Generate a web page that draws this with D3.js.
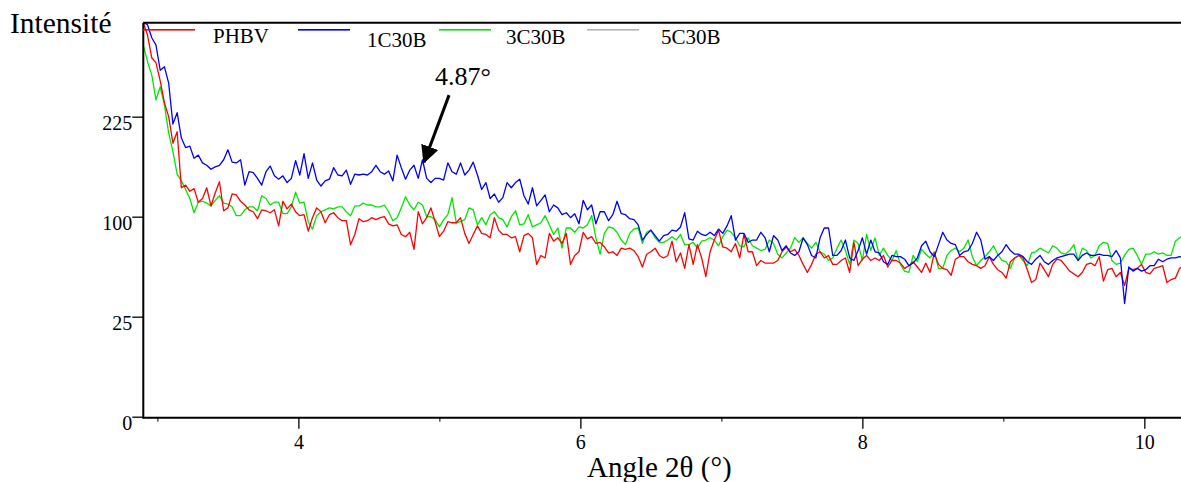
<!DOCTYPE html>
<html>
<head>
<meta charset="utf-8">
<script src="https://cdn.jsdelivr.net/npm/d3@7"></script>
<style>
  html, body { margin: 0; padding: 0; background: #fff; }
  svg { display: block; }
  text { font-family: "Liberation Serif", "Times New Roman", serif; fill: #000; }
</style>
</head>
<body>
<div id="chart"></div>
<script>
// scan grid, degrees 2θ
const angleStart = 2.9;
const angleStep = 0.03;

const seriesNames = ['PHBV', '1C30B', '3C30B', '5C30B'];
const seriesColors = ['#ff0000', '#0000ff', '#00e600', '#b4b4b4'];

// intensities, one per grid step
const phbv = [
  388, 364, 322, 313, 282, 246, 225, 187, 203, 131,
  134, 127, 130, 115, 119, 131, 111, 125, 138, 106,
  109, 124, 123, 116, 112, 107, 105, 98, 107, 106,
  104, 107, 91, 116, 108, 113, 105, 101, 102, 86,
  99, 109, 105, 94, 102, 104, 99, 96, 96, 74,
  83, 98, 95, 96, 99, 97, 99, 100, 93, 91,
  92, 83, 81, 85, 70, 105, 93, 99, 109, 95,
  81, 86, 95, 94, 94, 99, 84, 75, 83, 91,
  84, 83, 80, 99, 87, 83, 83, 80, 81, 68,
  82, 84, 80, 58, 65, 63, 84, 77, 80, 75,
  84, 58, 65, 68, 85, 79, 81, 75, 76, 72,
  67, 68, 65, 71, 70, 71, 69, 64, 56, 66,
  68, 71, 65, 63, 65, 77, 60, 67, 55, 74,
  58, 74, 63, 49, 68, 78, 87, 72, 71, 68,
  75, 63, 83, 68, 68, 57, 61, 59, 59, 59,
  61, 68, 72, 68, 70, 65, 58, 52, 58, 66,
  68, 63, 65, 58, 58, 61, 63, 52, 76, 57,
  62, 65, 61, 63, 61, 65, 56, 61, 61, 59,
  55, 57, 60, 56, 52, 59, 52, 67, 58, 55,
  54, 50, 62, 64, 64, 60, 58, 57, 55, 57,
  64, 58, 54, 52, 48, 60, 63, 65, 63, 54,
  45, 47, 59, 54, 49, 58, 62, 61, 57, 53,
  51, 49, 52, 58, 59, 57, 64, 46, 54, 55,
  49, 52, 43, 55, 54, 55, 58, 52, 51, 55,
  56, 57, 45, 47, 48, 55, 57
];

const c1c30b = [
  388, 384, 359, 345, 300, 306, 278, 214, 231, 194,
  181, 183, 167, 171, 161, 158, 153, 156, 158, 165,
  178, 162, 161, 165, 134, 150, 149, 142, 134, 150,
  157, 145, 141, 145, 137, 142, 164, 146, 173, 142,
  161, 140, 133, 139, 141, 155, 146, 145, 152, 135,
  147, 146, 147, 146, 150, 158, 150, 147, 151, 139,
  171, 155, 141, 152, 158, 142, 165, 142, 137, 142,
  142, 140, 161, 150, 147, 161, 146, 152, 162, 146,
  129, 137, 119, 124, 115, 120, 137, 131, 137, 141,
  122, 113, 131, 111, 117, 123, 105, 112, 109, 102,
  104, 99, 103, 93, 117, 107, 112, 93, 105, 105,
  96, 102, 116, 103, 102, 98, 97, 92, 78, 83,
  87, 82, 77, 82, 83, 87, 86, 90, 104, 79,
  78, 86, 83, 82, 85, 82, 88, 84, 91, 101,
  78, 84, 84, 76, 78, 78, 85, 80, 68, 82,
  78, 69, 73, 67, 65, 68, 80, 74, 65, 63,
  80, 89, 89, 65, 65, 69, 78, 63, 61, 69,
  80, 66, 78, 68, 67, 60, 58, 65, 64, 64,
  62, 57, 59, 63, 73, 77, 68, 64, 74, 85,
  78, 75, 74, 65, 68, 69, 75, 85, 78, 62,
  64, 61, 65, 68, 74, 69, 66, 66, 64, 60,
  58, 62, 65, 60, 58, 61, 63, 64, 65, 66,
  66, 61, 65, 67, 65, 65, 66, 65, 65, 64,
  69, 63, 32, 56, 53, 55, 53, 54, 57, 57,
  62, 60, 62, 63, 63, 64, 63
];

const c3c30b = [
  345, 315, 292, 251, 272, 243, 201, 176, 147, 139,
  129, 119, 104, 115, 116, 114, 111, 117, 122, 114,
  113, 110, 101, 101, 107, 110, 110, 106, 122, 119,
  112, 115, 115, 103, 103, 110, 126, 114, 115, 95,
  88, 101, 105, 107, 109, 108, 110, 110, 105, 101,
  111, 111, 114, 112, 112, 110, 110, 112, 105, 96,
  99, 109, 121, 112, 107, 115, 112, 100, 100, 97,
  90, 97, 102, 120, 94, 95, 97, 109, 107, 92,
  99, 92, 102, 105, 99, 97, 90, 100, 106, 92,
  93, 102, 90, 92, 94, 101, 92, 83, 89, 71,
  89, 89, 85, 90, 89, 92, 101, 80, 66, 84,
  90, 89, 85, 78, 74, 84, 88, 89, 75, 85,
  87, 80, 76, 76, 78, 81, 78, 83, 74, 74,
  76, 71, 77, 78, 80, 78, 73, 81, 87, 85,
  80, 73, 72, 80, 73, 71, 69, 70, 78, 75,
  66, 63, 67, 71, 80, 76, 80, 75, 71, 76,
  68, 66, 61, 63, 71, 78, 69, 58, 78, 75,
  61, 83, 69, 80, 65, 71, 65, 61, 69, 58,
  53, 52, 65, 60, 70, 66, 63, 68, 55, 55,
  65, 69, 71, 68, 71, 78, 64, 57, 61, 64,
  68, 73, 66, 61, 60, 55, 63, 65, 61, 57,
  67, 68, 71, 69, 67, 73, 71, 67, 66, 69,
  74, 61, 71, 69, 63, 65, 73, 76, 75, 61,
  58, 59, 65, 70, 71, 65, 58, 66, 66, 68,
  66, 67, 65, 65, 77, 80, 82
];

// 5C30B only shows up in the legend
const c5c30b = [];

const xTicks = [4, 6, 8, 10];
const xMinorTicks = [3, 5, 7, 9];
const yTicks = [0, 25, 100, 225];

const peakAngle = 4.87;
const peakLabel = '4.87°';

// layout
const W = 1181, H = 482;
const plot = { left: 143.3, right: 1181, top: 22.7, bottom: 416.7 };
const legendLineX = [143, 298, 439, 587];
const legendTextX = [213, 367, 506, 661];
const legendTextY = [43, 47, 44, 44];
const font = '"Liberation Serif", "Times New Roman", serif';

const angles = phbv.map((_, i) => +(angleStart + i * angleStep).toFixed(2));
const allSeries = [phbv, c1c30b, c3c30b, c5c30b];

const x = d3.scaleLinear().domain([2.9, 10.26]).range([plot.left, plot.right]);
const y = d3.scaleSqrt().domain([0, 388]).range([plot.bottom, plot.top]);

const svg = d3.select('#chart').append('svg')
  .attr('width', W)
  .attr('height', H);

const defs = svg.append('defs');
defs.append('clipPath').attr('id', 'clip')
  .append('rect')
  .attr('x', plot.left).attr('y', plot.top - 2)
  .attr('width', plot.right - plot.left).attr('height', plot.bottom - plot.top + 4);

// curves
const line = d3.line()
  .x((d, i) => x(angles[i]))
  .y((d) => y(d));

const curves = svg.append('g').attr('clip-path', 'url(#clip)');
[3, 2, 0, 1].forEach((k) => {
  if (!allSeries[k].length) return;
  curves.append('path')
    .datum(allSeries[k])
    .attr('d', line)
    .attr('fill', 'none')
    .style('stroke', seriesColors[k])
    .attr('stroke-width', 1.3)
    .attr('stroke-linejoin', 'round');
});

// x axis
const xAxis = svg.append('g')
  .attr('transform', `translate(0,${plot.bottom + 1})`)
  .call(d3.axisBottom(x).tickValues(xTicks).tickSize(11).tickSizeOuter(0).tickPadding(6));
svg.append('g')
  .attr('transform', `translate(0,${plot.bottom + 1})`)
  .call(d3.axisBottom(x).tickValues(xMinorTicks).tickSize(4).tickSizeOuter(0).tickFormat(''))
  .call((g) => g.select('.domain').remove());

// y axis
const yAxis = svg.append('g')
  .attr('transform', `translate(${plot.left},0)`)
  .call(d3.axisLeft(y).tickValues(yTicks).tickSize(11).tickSizeOuter(0).tickPadding(0));

[xAxis, yAxis].forEach((g) => {
  g.select('.domain').remove();
  g.selectAll('.tick line').attr('stroke', '#000').attr('stroke-width', 1.3);
  g.selectAll('.tick text').attr('font-family', font).attr('font-size', 20).attr('fill', '#000');
});
yAxis.selectAll('.tick text').attr('dy', '0.62em');

// frame lines
svg.append('line')
  .attr('x1', plot.left).attr('x2', plot.right)
  .attr('y1', plot.bottom + 1).attr('y2', plot.bottom + 1)
  .attr('stroke', '#000').attr('stroke-width', 2);
svg.append('line')
  .attr('x1', plot.left).attr('x2', plot.left)
  .attr('y1', plot.top).attr('y2', plot.bottom + 2)
  .attr('stroke', '#000').attr('stroke-width', 2);
svg.append('line')
  .attr('x1', plot.left).attr('x2', plot.right)
  .attr('y1', plot.top).attr('y2', plot.top)
  .attr('stroke', '#000').attr('stroke-width', 2);

// legend (swatches as thin filled rects)
const legend = svg.append('g');
seriesNames.forEach((name, k) => {
  legend.append('rect')
    .attr('x', legendLineX[k]).attr('y', 29)
    .attr('width', 52).attr('height', 1.6)
    .style('fill', seriesColors[k])
    .style('stroke', 'none');
  legend.append('text')
    .attr('x', legendTextX[k]).attr('y', legendTextY[k])
    .attr('font-size', 21)
    .text(name);
});

// titles
svg.append('text')
  .attr('x', 10).attr('y', 33)
  .attr('font-size', 29.5)
  .text('Intensité');
svg.append('text')
  .attr('x', 587).attr('y', 477)
  .attr('font-size', 29)
  .text('Angle 2θ (°)');

// peak annotation
defs.append('marker')
  .attr('id', 'arrow')
  .attr('viewBox', '0 0 10 10')
  .attr('refX', 9).attr('refY', 5)
  .attr('markerWidth', 6).attr('markerHeight', 6)
  .attr('markerUnits', 'strokeWidth')
  .attr('orient', 'auto')
  .append('path')
  .attr('d', 'M0,0 L10,5 L0,10 Z')
  .attr('fill', '#000');

const tipX = x(peakAngle) + 3;
const tipY = y(162);
svg.append('line')
  .attr('x1', tipX + 25).attr('y1', tipY - 67)
  .attr('x2', tipX).attr('y2', tipY)
  .attr('stroke', '#000')
  .attr('stroke-width', 3)
  .attr('marker-end', 'url(#arrow)');
svg.append('text')
  .attr('x', tipX + 11).attr('y', 85)
  .attr('font-size', 26)
  .text(peakLabel);
</script>
</body>
</html>
